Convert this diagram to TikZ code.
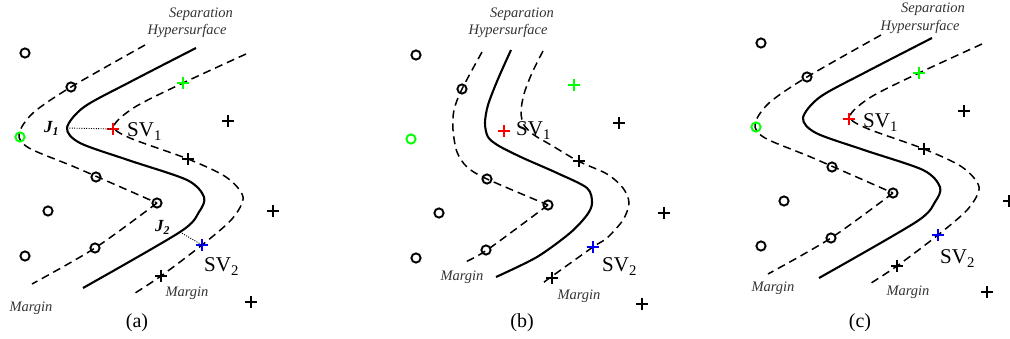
\documentclass[tikz,border=0pt]{standalone}
\usepackage{fontspec}
\setmainfont{Liberation Serif}
\usepackage{xcolor}
\usepackage{tikz}
\definecolor{svgreen}{RGB}{0,255,0}
\definecolor{svred}{RGB}{255,0,0}
\definecolor{svblue}{RGB}{0,0,255}
\tikzset{
  ocirc/.style={circle,draw,line width=1.9pt,minimum size=9.2pt,inner sep=0pt},
  plusmark/.style={line width=1.8pt},
  margin/.style={line width=1.5pt,dash pattern=on 8pt off 5pt},
  hyper/.style={line width=2.1pt},
  gapline/.style={line width=0.9pt,dash pattern=on 1pt off 1.4pt},
  note/.style={font=\fontsize{14.5}{17}\selectfont\itshape,text=black!80,anchor=base,inner sep=0pt},
  svlab/.style={font=\fontsize{21}{24}\selectfont,anchor=base west,inner sep=0pt},
  jlab/.style={font=\fontsize{17}{20}\selectfont\bfseries\itshape,anchor=base west,inner sep=0pt},
  caption/.style={font=\fontsize{20}{24}\selectfont,anchor=base,inner sep=0pt},
}
\newcommand{\svmdata}{%
  \foreach \px/\py/\pc [count=\k] in {25/53/black,71/87/black,20/137/svgreen,96/177/black,157/203/black,48/211/black,95/248/black,25/256/black}
    \node[ocirc,draw=\pc] (o\k) at (\px,\py) {};
  \foreach \px/\py/\pc [count=\k] in {183/83/svgreen,113/129/svred,228/121/black,188/159/black,202/245/svblue,161/276/black,273/211/black,251/302/black}{
    \coordinate (p\k) at (\px,\py);
    \draw[plusmark,\pc] (p\k) ++(-6,0) -- ++(12,0) (p\k) ++(0,-6) -- ++(0,12);
  }%
}
\newcommand{\svmwide}{%
  \draw[margin] plot[smooth] coordinates {(145,45) (71,87) (33,113) (19,134) (29,148) (77,168) (157,203)};
  \draw[margin] plot[smooth] coordinates {(157,203) (95,248) (32,284)};
  \draw[hyper] plot[smooth] coordinates {(196,48) (130,82) (84,107) (67,128) (80,143) (128,160) (187,180) (204,197) (199,212) (180,232) (83,288)};
  \draw[margin] plot[smooth] coordinates {(246,54) (183,83) (135,107) (114,126) (130,138) (188,159) (226,177) (243,197) (232,219) (202,245) (161,276) (132,295)};
}

\begin{document}
\begin{tikzpicture}[x=1pt,y=-1pt]
  \useasboundingbox (0,0) rectangle (1010,339);
  \begin{scope}
    \svmwide
    \svmdata
    \coordinate (J1) at (67,128);
    \coordinate (J2) at (180,232);
    \draw[gapline] (J1) -- (p2);
    \draw[gapline] (J2) -- (p5);
  \end{scope}
  \begin{scope}[shift={(391,2)}]
    \draw[margin] plot[smooth] coordinates {(91,50) (71,87) (63,108) (62,128) (66,150) (76,165) (96,177) (157,203)};
    \draw[margin] plot[smooth] coordinates {(157,203) (96,248) (72,261)};
    \draw[hyper] plot[smooth] coordinates {(120,48) (107,77) (97,103) (94,121) (97,135) (108,144) (132,156) (166,171) (196,186) (201,201) (196,213) (179,231) (146,255) (105,275)};
    \draw[margin] plot[smooth] coordinates {(152,49) (141,71) (133,92) (130,110) (133,123) (143,133) (160,143) (187,159) (216,172) (232,186) (238,201) (232,218) (216,236) (202,245) (160,275) (152,281)};
    \svmdata
  \end{scope}
  \begin{scope}[shift={(736,-10)}]
    \svmwide
    \svmdata
  \end{scope}

  \node[note] (sepA) at (201,18) {Separation};
  \node[note] (hypA) at (187,35) {Hypersurface};
  \node[jlab] (jA1) at (44,133) {J\textsubscript{1}};
  \node[svlab] (svA1) at (127,137) {SV\textsubscript{1}};
  \node[jlab] (jA2) at (155,232) {J\textsubscript{2}};
  \node[svlab] (svA2) at (204,272) {SV\textsubscript{2}};
  \node[note] (mgA1) at (31,312) {Margin};
  \node[note] (mgA2) at (187,297) {Margin};
  \node[caption] (capA) at (137,327) {(a)};

  \node[note] (sepB) at (522,18) {Separation};
  \node[note] (hypB) at (508,35) {Hypersurface};
  \node[svlab] (svB1) at (516,136) {SV\textsubscript{1}};
  \node[svlab] (svB2) at (602,272) {SV\textsubscript{2}};
  \node[note] (mgB1) at (462,280) {Margin};
  \node[note] (mgB2) at (579,299) {Margin};
  \node[caption] (capB) at (522,327) {(b)};

  \node[note] (sepC) at (933,13) {Separation};
  \node[note] (hypC) at (920,31) {Hypersurface};
  \node[svlab] (svC1) at (863,128) {SV\textsubscript{1}};
  \node[svlab] (svC2) at (940,264) {SV\textsubscript{2}};
  \node[note] (mgC1) at (773,292) {Margin};
  \node[note] (mgC2) at (908,295) {Margin};
  \node[caption] (capC) at (860,327) {(c)};
\end{tikzpicture}
\end{document}
